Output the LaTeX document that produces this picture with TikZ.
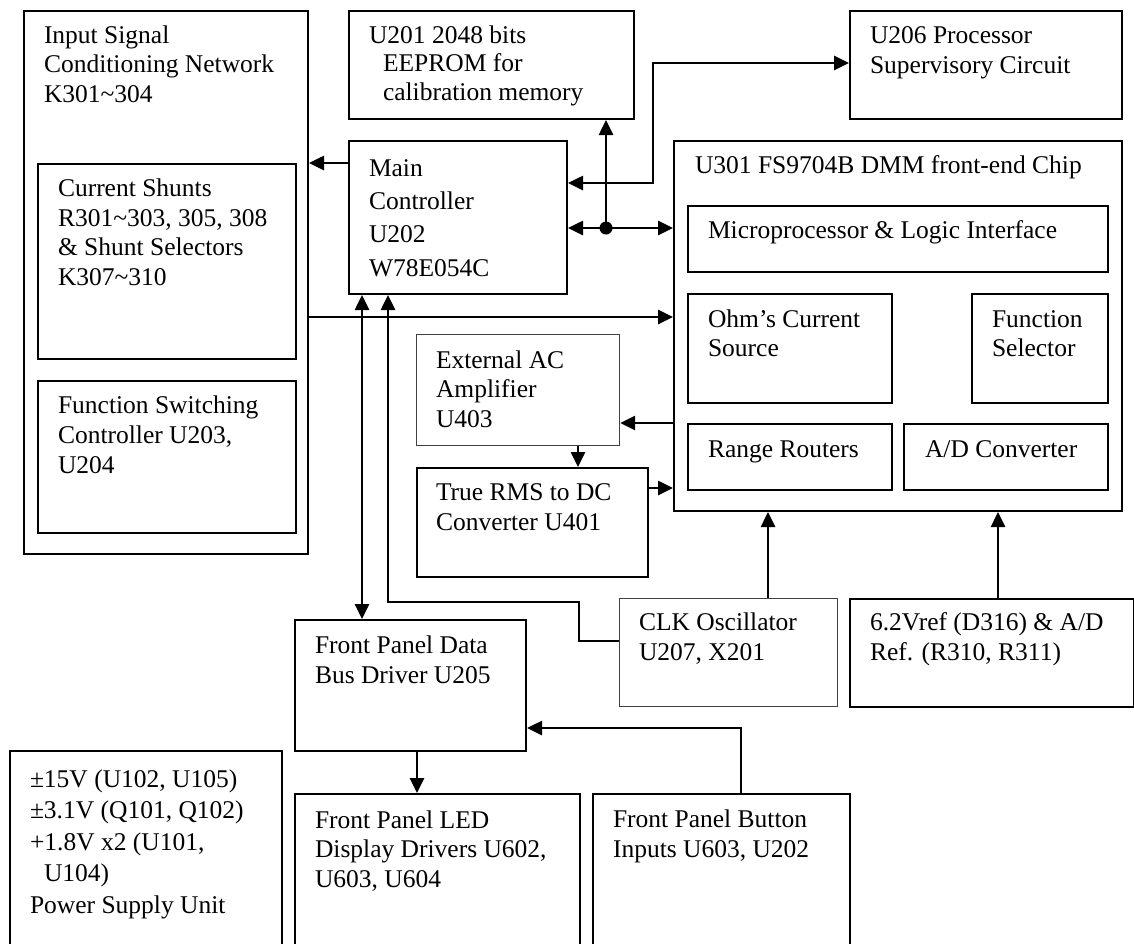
\documentclass[tikz,border=0pt]{standalone}
\usepackage{fontspec}
\setmainfont{Liberation Serif}
\usetikzlibrary{arrows.meta}
\newcommand\mkbox[6]{\node[#1,minimum width={(#5-#3)*1pt},minimum height={(#6-#4)*1pt}] (#2) at (#3,#4) {};}
\begin{document}
\begin{tikzpicture}[x=1pt,y=-1pt,
  box/.style={draw=black,line width=2pt,inner sep=0pt,anchor=north west},
  thinbox/.style={draw=black!75,line width=1.2pt,inner sep=0pt,anchor=north west},
  txt/.style={anchor=base west,inner sep=0pt,outer sep=0pt,align=left,font=\fontsize{25.5}{29.5}\selectfont},
  tip/.tip={Triangle[length=15pt,width=14pt]},
  conn/.style={line width=2.6pt,-tip},
  biconn/.style={line width=2.6pt,tip-tip}]
\useasboundingbox (0,0) rectangle (1134,943);
\clip (0,0) rectangle (1134,943);
% boxes
\mkbox{box}{input}{23}{10}{307}{553}
\mkbox{box}{shunt}{37}{163}{295}{358}
\mkbox{box}{fsw}{37}{380}{295}{532}
\mkbox{box}{eeprom}{348}{10}{633}{118}
\mkbox{box}{main}{348}{140}{566}{293}
\mkbox{box}{u206}{849}{10}{1121}{118}
\mkbox{box}{chip}{673}{140}{1121}{510}
\mkbox{box}{micro}{687}{205}{1107}{271}
\mkbox{box}{ohm}{687}{293}{891}{402}
\mkbox{box}{fsel}{971}{293}{1107}{402}
\mkbox{box}{range}{687}{423}{891}{489}
\mkbox{box}{adc}{903}{423}{1107}{489}
\mkbox{thinbox}{extac}{416}{334}{619}{445}
\mkbox{box}{rms}{416}{467}{647}{576}
\mkbox{thinbox}{clk}{619}{598}{837}{706}
\mkbox{box}{vref}{849}{598}{1133}{706}
\mkbox{box}{bus}{294}{619}{525}{750}
\mkbox{box}{psu}{9}{750}{281}{980}
\mkbox{box}{led}{294}{793}{579}{980}
\mkbox{box}{btn}{592}{793}{849}{980}
% texts (anchored at the baseline of their last line)
\node[txt] (inputT) at (44,102) {Input Signal\\Conditioning Network\\K301\textasciitilde 304};
\node[txt] (shuntT) at (58,285) {Current Shunts\\R301\textasciitilde 303, 305, 308\\\& Shunt Selectors\\K307\textasciitilde 310};
\node[txt,font=\fontsize{25.5}{30}\selectfont] (fswT) at (58,473) {Function Switching\\Controller U203,\\U204};
\node[txt,font=\fontsize{25.5}{28.5}\selectfont] (eepromT) at (369,100) {U201 2048 bits\\\hspace*{14pt}EEPROM for\\\hspace*{14pt}calibration memory};
\node[txt,font=\fontsize{25.5}{33.3}\selectfont] (mainT) at (369,276) {Main\\Controller\\U202\\W78E054C};
\node[txt] (u206T) at (870,73) {U206 Processor\\Supervisory Circuit};
\node[txt] (chipT) at (695,173) {U301 FS9704B DMM front-end Chip};
\node[txt] (microT) at (708,238) {Microprocessor \& Logic Interface};
\node[txt,font=\fontsize{25.5}{28.5}\selectfont] (ohmT) at (708,356) {Ohm’s Current\\Source};
\node[txt,font=\fontsize{25.5}{28.5}\selectfont] (fselT) at (992,356) {Function\\Selector};
\node[txt] (rangeT) at (708,457) {Range Routers};
\node[txt] (adcT) at (925,457) {A/D Converter};
\node[txt] (extacT) at (436,427) {External AC\\Amplifier\\U403};
\node[txt] (rmsT) at (436,530) {True RMS to DC\\Converter U401};
\node[txt] (clkT) at (639,660) {CLK Oscillator\\U207, X201};
\node[txt] (vrefT) at (870,660) {6.2Vref (D316) \& A/D\\Ref. (R310, R311)};
\node[txt] (busT) at (315,683) {Front Panel Data\\Bus Driver U205};
\node[txt,font=\fontsize{25.5}{31.5}\selectfont] (psuT) at (30,913) {±15V (U102, U105)\\±3.1V (Q101, Q102)\\+1.8V x2 (U101,\\\hspace*{14pt}U104)\\Power Supply Unit};
\node[txt] (ledT) at (315,887) {Front Panel LED\\Display Drivers U602,\\U603, U604};
\node[txt] (btnT) at (613,857) {Front Panel Button\\Inputs U603, U202};
% connectors
\draw[conn] (main.west |- 0,163) -- (input.east |- 0,163);
\draw[conn] (input.east |- 0,317) -- (chip.west |- 0,317);
\coordinate (j) at (606,228);
\draw[conn] (j) -- (main.east |- j);
\draw[conn] (j) -- (chip.west |- j);
\draw[conn] (j) -- (eeprom.south -| j);
\fill (j) circle[radius=6.5pt];
\draw[biconn] (main.east |- 0,183) -- (653,183) -- (653,63) -- (u206.west |- 0,63);
\draw[biconn] (main.south -| 362,0) -- (bus.north -| 362,0);
\draw[conn] (clk.west |- 0,641) -- (579,641) -- (579,602) -- (388,602) -- (main.south -| 388,0);
\draw[conn] (chip.west |- 0,423) -- (extac.east |- 0,423);
\draw[conn] (extac.south -| 578,0) -- (rms.north -| 578,0);
\draw[conn] (rms.east |- 0,488) -- (chip.west |- 0,488);
\draw[conn] (clk.north -| 768,0) -- (chip.south -| 768,0);
\draw[conn] (vref.north -| 998,0) -- (chip.south -| 998,0);
\draw[conn] (bus.south -| 417,0) -- (led.north -| 417,0);
\draw[conn] (btn.north -| 741,0) -- (741,728) -- (bus.east |- 0,728);
\end{tikzpicture}
\end{document}
